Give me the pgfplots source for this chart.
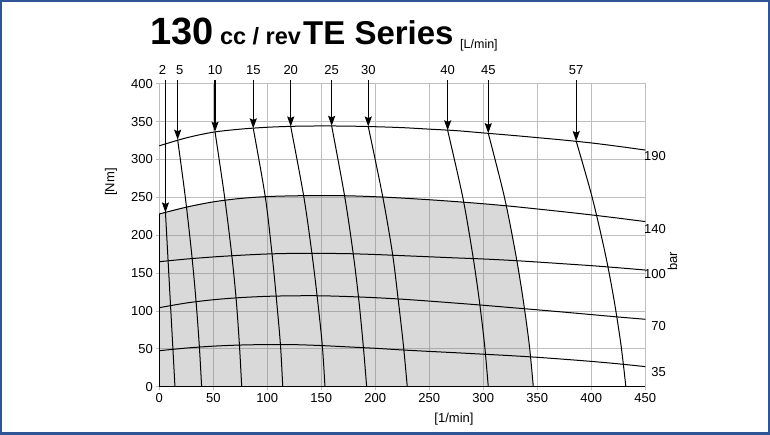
\documentclass[border=0pt]{standalone}
\usepackage{fontspec}
\setmainfont{Liberation Sans}
\usepackage{pgfplots}
\pgfplotsset{compat=1.18}
\usetikzlibrary{arrows.meta}
\definecolor{frameblue}{RGB}{47,85,151}
\definecolor{gridgray}{RGB}{190,190,190}
\newcommand{\lab}{\fontsize{13}{13}\selectfont}
\begin{document}
\begin{tikzpicture}
\useasboundingbox (-159.3pt,-48.3pt) rectangle (610.7pt,386.7pt);
\begin{axis}[
  at={(0pt,0pt)}, anchor=south west,
  scale only axis, width=486pt, height=303pt,
  xmin=0,xmax=450,ymin=0,ymax=400,
  xtick={0,50,...,450}, ytick={0,50,...,400},
  grid=major, grid style={gridgray, line width=0.8pt},
  axis line style={gridgray, line width=0.8pt},
  tick style={gridgray, line width=0.8pt},
  tick align=outside, major tick length=3pt,
  xtick pos=bottom, ytick pos=left,
  ticklabel style={font=\lab, text=black},
  /pgf/number format/assume math mode=true,
  clip=false,
  every axis plot/.append style={black, line width=1pt},
  arr/.style={line width=1.3pt, -{Stealth[length=10pt,width=7pt,inset=1.5pt]}},
]
% shaded operating region
\addplot[draw=none, fill=black!50, fill opacity=0.3] coordinates {
 (0,0) (0,228) (12.5,233) (25,237) (37.5,241) (50,244) (75,248.5) (100,251) (125,252) (150,252.3) (175,252) (200,250.8)
 (225,249) (250,246.8) (275,244.3) (300,241.5) (321.4,238.8)
 (325.4,210) (330,175) (333.6,145) (336.9,115) (339.9,85) (342.6,55) (344.6,25) (346.3,0) (0,0)};
\addplot[line width=1pt] coordinates {(0,228) (0,0) (450,0)};
% pressure curves (bar): 190, 140, 100, 70, 35
\addplot[smooth] coordinates {(0,318) (25,328.5) (50,336) (75,340) (100,342.5) (125,343.8) (150,344.2) (175,344) (200,343.2) (225,342) (250,340) (275,338) (300,335) (325,332) (350,328.8) (375,325.5) (400,321.8) (425,317.3) (450,312.4)};
\addplot[smooth] coordinates {(0,228) (25,237) (50,244) (75,248.5) (100,251) (125,252) (150,252.3) (175,252) (200,250.8) (225,249) (250,246.8) (275,244.3) (300,241.5) (325,238.3) (350,234.6) (375,230.8) (400,226.8) (425,222.5) (450,218)};
\addplot[smooth] coordinates {(0,165) (25,168.5) (50,171.3) (75,173.5) (100,175.2) (125,176) (150,176) (175,175.6) (200,174.5) (225,173) (250,171.5) (275,170) (300,168.6) (325,166.8) (350,164.6) (375,162.2) (400,159.8) (425,157) (450,154)};
\addplot[smooth] coordinates {(0,104.3) (25,110.5) (50,114.8) (75,117.6) (100,119.3) (125,120) (150,120) (175,119) (200,117.5) (225,115.5) (250,113) (275,110.3) (300,107.5) (325,104.5) (350,101.5) (375,98.4) (400,95.2) (425,92) (450,89)};
\addplot[smooth] coordinates {(0,47.5) (25,51) (50,53.5) (75,55) (100,55.6) (125,55.5) (150,54.3) (175,52.5) (200,50.7) (225,48.5) (250,46.6) (275,44.8) (300,42.9) (325,41) (350,38.8) (375,36.2) (400,33.4) (425,30.2) (450,26.5)};
% flow curves (L/min): 2, 5, 10, 15, 20, 25, 30, 40, 45, 57
\addplot[smooth] coordinates {(5.7,230) (8,170) (10.3,110) (12.6,50) (14.5,0)};
\addplot[smooth] coordinates {(17,326) (24.1,250) (30,175) (33.9,115) (37,55) (39.2,0)};
\addplot[smooth] coordinates {(51.6,336.5) (60.5,250) (67,175) (71.2,115) (74.2,55) (76.3,0)};
\addplot[smooth] coordinates {(87,341) (98.2,250) (104.4,175) (108.5,115) (112.2,55) (114.3,0)};
\addplot[smooth] coordinates {(121.7,343.5) (133.9,250) (141.4,175) (146.5,115) (150.9,55) (153.4,0)};
\addplot[smooth] coordinates {(159.6,344.3) (171.8,250) (179.6,175) (184.7,115) (188.8,55) (192,0)};
\addplot[smooth] coordinates {(193.5,343.4) (207,250) (216,175) (221.2,115) (226,55) (229.6,0)};
\addplot[smooth] coordinates {(267,338.4) (281,250) (290.1,175) (296.2,115) (301.2,55) (304.6,0)};
\addplot[smooth] coordinates {(304.6,334.6) (319.6,250) (330,175) (336.9,115) (342.6,55) (346.3,0)};
\addplot[smooth] coordinates {(386,324.2) (400.8,250) (413,175) (421,115) (427.5,55) (432,0)};
% arrows
\addplot[arr] coordinates {(5.7,405) (5.7,230)};
\addplot[arr] coordinates {(17,405) (17,326)};
\addplot[arr] coordinates {(51.6,405) (51.6,336.5)};
\addplot[arr] coordinates {(87,405) (87,341)};
\addplot[arr] coordinates {(121.7,405) (121.7,343.5)};
\addplot[arr] coordinates {(159.6,405) (159.6,344.3)};
\addplot[arr] coordinates {(193.5,405) (193.5,343.4)};
\addplot[arr] coordinates {(267,405) (267,338.4)};
\addplot[arr] coordinates {(304.6,405) (304.6,334.6)};
\addplot[arr] coordinates {(386,405) (386,324.2)};
% flow labels
\node[font=\lab] at (axis cs:3,418) {2};
\node[font=\lab] at (axis cs:19,418) {5};
\node[font=\lab] at (axis cs:51.6,418) {10};
\node[font=\lab] at (axis cs:87,418) {15};
\node[font=\lab] at (axis cs:121.7,418) {20};
\node[font=\lab] at (axis cs:159.6,418) {25};
\node[font=\lab] at (axis cs:193.5,418) {30};
\node[font=\lab] at (axis cs:267,418) {40};
\node[font=\lab] at (axis cs:304.6,418) {45};
\node[font=\lab] at (axis cs:386,418) {57};
% pressure labels
\node[font=\lab, anchor=east, inner sep=0pt] at (axis cs:469.2,304.9) {190};
\node[font=\lab, anchor=east, inner sep=0pt] at (axis cs:469.2,208.2) {140};
\node[font=\lab, anchor=east, inner sep=0pt] at (axis cs:469.2,148.8) {100};
\node[font=\lab, anchor=east, inner sep=0pt] at (axis cs:469.2,80.5) {70};
\node[font=\lab, anchor=east, inner sep=0pt] at (axis cs:469.2,19) {35};
\end{axis}
% titles and axis descriptions
\node[anchor=base west, inner sep=0pt, font=\bfseries\fontsize{38}{38}\selectfont] at (-9.3pt,341.7pt) {130};
\node[anchor=base west, inner sep=0pt, font=\bfseries\fontsize{23.5}{23.5}\selectfont] at (60.5pt,341.7pt) {cc / rev};
\node[anchor=base west, inner sep=0pt, font=\bfseries\fontsize{33}{33}\selectfont] at (143.7pt,341.7pt) {TE Series};
\node[anchor=base west, inner sep=0pt, font=\fontsize{12.5}{12.5}\selectfont] at (300.7pt,337.7pt) {[L/min]};
\node[rotate=90, font=\lab] at (-48.3pt,204.7pt) {[Nm]};
\node[font=\lab] at (294.7pt,-32.3pt) {[1/min]};
\node[rotate=90, font=\lab] at (513.2pt,125.2pt) {bar};
\draw[frameblue, line width=2.5pt] (-158.05pt,-47.05pt) rectangle (609.45pt,385.45pt);
\end{tikzpicture}
\end{document}
